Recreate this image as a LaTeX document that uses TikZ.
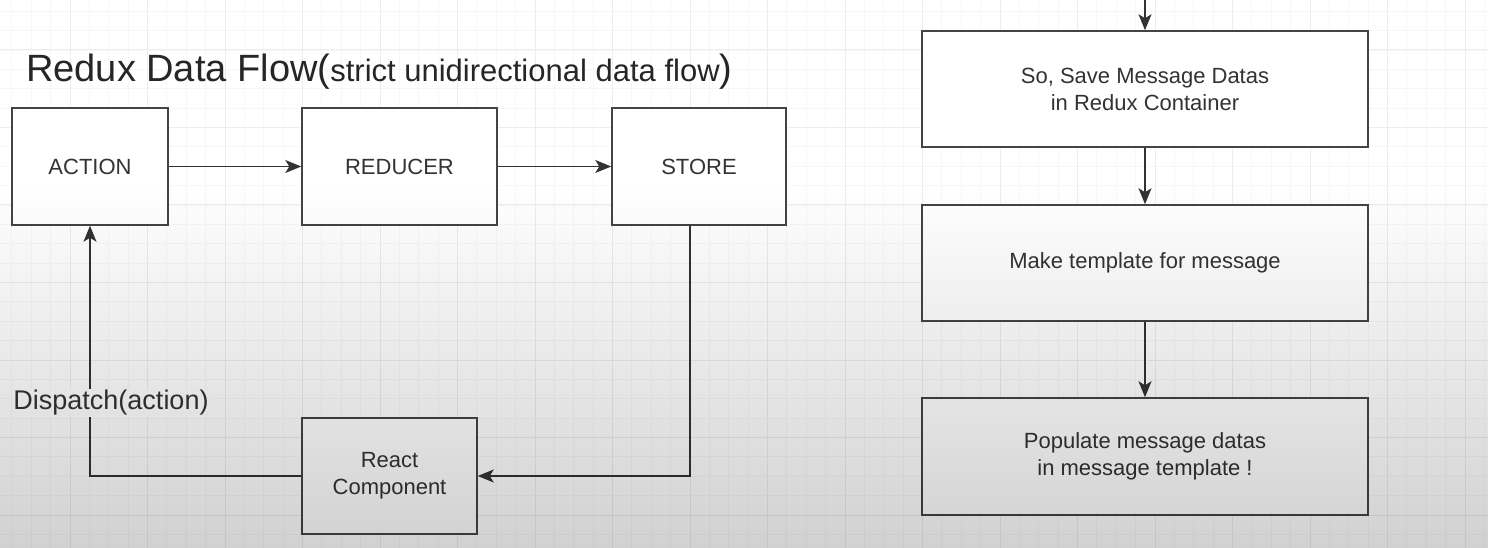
\documentclass[tikz,border=0pt]{standalone}
\usepackage{fontspec}
\setmainfont{Liberation Sans}
\usetikzlibrary{arrows.meta}
\definecolor{ink}{HTML}{333333}
\definecolor{edge}{HTML}{444444}
\tikzset{
  box/.style={draw=edge, line width=1.5pt, fill=white, inner sep=0pt, align=center,
    text=ink, font=\fontsize{22}{27}\selectfont},
  flow/.style={draw=ink, line width=1.5pt, -{Stealth[length=16pt,width=13pt,inset=4pt]}},
  minorgrid/.style={draw=black!3, line width=0.8pt},
  majorgrid/.style={draw=black!7, line width=1pt},
}
\begin{document}
\begin{tikzpicture}[x=1pt,y=-1pt]
\useasboundingbox (0,0) rectangle (1488,548);
\fill[white] (0,0) rectangle (1488,548);
% grid
\foreach \i in {0,...,78} {
  \draw[minorgrid] (-7.5+19.375*\i,0) -- (-7.5+19.375*\i,548);
}
\foreach \i in {0,...,29} {
  \draw[minorgrid] (0,-8.125+19.375*\i) -- (1488,-8.125+19.375*\i);
}
\foreach \i in {0,...,19} {
  \draw[majorgrid] (-7.5+77.5*\i,0) -- (-7.5+77.5*\i,548);
}
\foreach \i in {0,...,7} {
  \draw[majorgrid] (0,-27.5+77.5*\i) -- (1488,-27.5+77.5*\i);
}
% title
\node[anchor=base west, inner sep=0pt, text=black!85] (title) at (26,82)
  {\fontsize{38}{40}\selectfont Redux Data Flow(\fontsize{31}{33}\selectfont strict unidirectional data flow\fontsize{38}{40}\selectfont)};
% left diagram
\node[box, minimum width=156pt, minimum height=117pt] (action) at (90,166.5) {ACTION};
\node[box, minimum width=195pt, minimum height=117pt] (reducer) at (399.5,166.5) {REDUCER};
\node[box, minimum width=174pt, minimum height=117pt] (store) at (699,166.5) {STORE};
\node[box, minimum width=175pt, minimum height=116pt] (react) at (389.5,476) {React\\Component};
\draw[flow] (action) -- (reducer);
\draw[flow] (reducer) -- (store);
\draw[flow] ([xshift=-9pt]store.south) |- (react.east);
\draw[flow] (react.west) -| (action.south);
\node[fill=white, inner sep=1pt, text=ink, font=\fontsize{27}{29}\selectfont] (dispatch) at (111,403) {Dispatch(action)};
% right diagram
\coordinate (topin) at (1145,0);
\node[box, minimum width=446pt, minimum height=116pt] (save) at (1145,89) {So, Save Message Datas\\in Redux Container};
\node[box, minimum width=446pt, minimum height=116pt] (make) at (1145,263) {Make template for message};
\node[box, minimum width=446pt, minimum height=117pt] (populate) at (1145,456.5) {Populate message datas\\in message template !};
\draw[flow] (topin) -- (save.north);
\draw[flow] (save) -- (make);
\draw[flow] (make) -- (populate);
% darkening overlay
\shade[blend mode=multiply, top color=white, bottom color=black!18] (0,185) rectangle (1488,548);
\end{tikzpicture}
\end{document}
